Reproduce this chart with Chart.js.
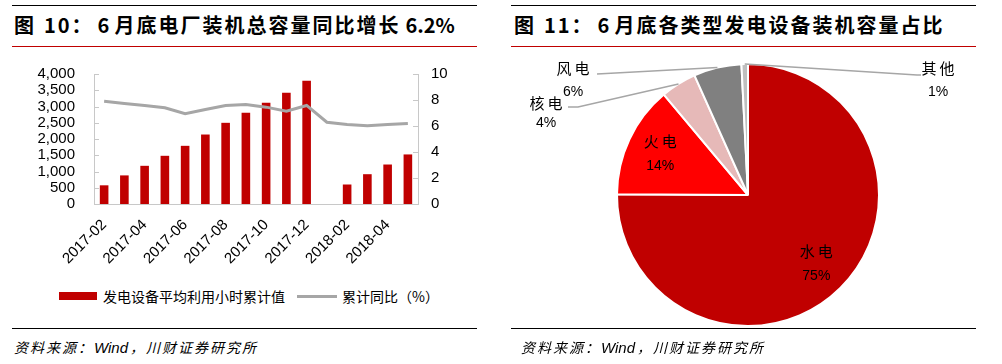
<!DOCTYPE html>
<html><head><meta charset="utf-8">
<script src="https://cdn.jsdelivr.net/npm/chart.js@4.4.1/dist/chart.umd.min.js"></script>
<style>
html,body{margin:0;padding:0;background:#fff;width:1002px;height:364px;overflow:hidden;position:relative;font-family:"Noto Sans CJK SC",sans-serif;}
.rule{position:absolute;height:1px;background:#000;}
.redrule{position:absolute;height:1px;background:#C00000;}
.title{position:absolute;font-weight:700;font-size:20px;letter-spacing:2px;line-height:24px;color:#000;white-space:nowrap;}
.src{position:absolute;font-size:14px;font-style:italic;line-height:18px;white-space:nowrap;letter-spacing:2px;color:#000;}
.src .en{font-family:"Liberation Sans",Arial,sans-serif;letter-spacing:0;font-size:15px;margin-right:2px;}
.leg{position:absolute;font-size:14px;line-height:18px;white-space:nowrap;color:#000;}
canvas{position:absolute;}
</style></head>
<body>
<div class="rule" style="left:12px;top:5px;width:465px;"></div>
<div class="title" style="left:14px;top:13px;">图<span style="margin-left:8px">10：</span><span style="margin-left:4px">6</span><span style="margin-left:3px">月底电厂装机总容量同比增长</span><span style="margin-left:5px;letter-spacing:0">6.2%</span></div>
<div class="redrule" style="left:12px;top:46px;width:465px;"></div>
<canvas id="c1" width="490" height="234" style="left:0;top:46px;width:490px;height:234px;"></canvas>
<div style="position:absolute;left:59px;top:292px;width:38px;height:8px;background:#C00000;"></div>
<div class="leg" style="left:103px;top:287px;">发电设备平均利用小时累计值</div>
<div style="position:absolute;left:297px;top:295px;width:40px;height:3px;background:#A6A6A6;"></div>
<div class="leg" style="left:342px;top:287px;">累计同比（%）</div>
<div class="rule" style="left:12px;top:328px;width:465px;"></div>
<div class="src" style="left:14px;top:338px;">资料来源：<span class="en">Wind</span>，川财证券研究所</div>

<div class="rule" style="left:511px;top:5px;width:465px;"></div>
<div class="title" style="left:514px;top:13px;">图<span style="margin-left:8px">11：</span><span style="margin-left:4px">6</span><span style="margin-left:3px">月底各类型发电设备装机容量占比</span></div>
<div class="redrule" style="left:511px;top:46px;width:465px;"></div>
<canvas id="c2" width="466" height="280" style="left:511px;top:50px;width:466px;height:280px;"></canvas>
<div class="rule" style="left:511px;top:328px;width:465px;"></div>
<div class="src" style="left:521px;top:338px;">资料来源：<span class="en">Wind</span>，川财证券研究所</div>

<script>
// ---- data ----
const categories = ['2017-02','2017-03','2017-04','2017-05','2017-06','2017-07','2017-08','2017-09','2017-10','2017-11','2017-12','2018-01','2018-02','2018-03','2018-04','2018-05'];
const avgHours = [575, 880, 1175, 1483, 1790, 2138, 2498, 2806, 3114, 3421, 3790, null, 600, 917, 1215, 1525];
const yoyPct = [7.9, 7.73, 7.58, 7.4, 6.94, 7.27, 7.58, 7.65, 7.45, 7.14, 7.58, 6.29, 6.12, 6.01, 6.12, 6.2];
const xTickLabels = ['2017-02','2017-04','2017-06','2017-08','2017-10','2017-12','2018-02','2018-04'];
const leftTicks = [0, 500, 1000, 1500, 2000, 2500, 3000, 3500, 4000];
const rightTicks = [0, 2, 4, 6, 8, 10];
const seriesNames = ['发电设备平均利用小时累计值', '累计同比（%）'];

const pieLabels = ['水电', '火电', '核电', '风电', '其他'];
const pieValues = [75.1, 13.8, 4.4, 5.9, 0.8];
const pieColors = ['#C00000', '#FF0000', '#E6B9B8', '#808080', '#BFBFBF'];

// ---- left chart ----
const axisColor = '#C8C8C8';
const tickFont = {family: '"Liberation Sans", Arial, sans-serif', size: 15};

const innerTicks = {
  id: 'innerTicks',
  afterDatasetsDraw(chart) {
    const ctx = chart.ctx;
    ctx.save();
    ctx.strokeStyle = axisColor;
    ctx.lineWidth = 1;
    const yl = chart.scales.y, yr = chart.scales.y1;
    yl.ticks.forEach(t => {
      const p = Math.round(yl.getPixelForValue(t.value)) + 0.5;
      ctx.beginPath(); ctx.moveTo(yl.right, p); ctx.lineTo(yl.right + 5, p); ctx.stroke();
    });
    yr.ticks.forEach(t => {
      const p = Math.round(yr.getPixelForValue(t.value)) + 0.5;
      ctx.beginPath(); ctx.moveTo(yr.left, p); ctx.lineTo(yr.left - 5, p); ctx.stroke();
    });
    ctx.restore();
  }
};

new Chart(document.getElementById('c1'), {
  data: {
    labels: categories,
    datasets: [
      {type: 'line', label: seriesNames[1], data: yoyPct, yAxisID: 'y1', borderColor: '#A6A6A6', borderWidth: 3, pointRadius: 0, tension: 0, order: 0, spanGaps: true},
      {type: 'bar', label: seriesNames[0], data: avgHours, yAxisID: 'y', backgroundColor: '#C00000', barPercentage: 0.85, categoryPercentage: 0.5, order: 1}
    ]
  },
  options: {
    responsive: false, animation: false, devicePixelRatio: 1,
    layout: {padding: 0},
    plugins: {legend: {display: false}, tooltip: {enabled: false}},
    scales: {
      x: {
        offset: true,
        grid: {display: false, drawTicks: false},
        border: {display: true, color: axisColor, width: 1},
        ticks: {autoSkip: false, maxRotation: 45, minRotation: 45, color: '#000', font: tickFont, padding: 12,
          callback: function(v, i) { const l = categories[i]; return xTickLabels.includes(l) ? l : ''; }},
        afterFit(s) { s.height = 76; }
      },
      y: {
        position: 'left', min: 0, max: 4000,
        grid: {display: false, drawTicks: false},
        border: {display: true, color: axisColor, width: 1},
        ticks: {stepSize: 500, autoSkip: false, color: '#000', font: tickFont, padding: 19,
          callback: v => leftTicks.includes(v) ? v.toLocaleString('en-US') : ''},
        afterFit(s) { s.width = 94; }
      },
      y1: {
        position: 'right', min: 0, max: 10,
        grid: {display: false, drawTicks: false},
        border: {display: true, color: axisColor, width: 1},
        ticks: {stepSize: 2, autoSkip: false, color: '#000', font: tickFont, padding: 13,
          callback: v => rightTicks.includes(v) ? String(v) : ''},
        afterFit(s) { s.width = 72; }
      }
    }
  },
  plugins: [innerTicks]
});

// ---- pie chart ----
const pieLabelPlugin = {
  id: 'pieLabels',
  afterDatasetsDraw(chart, args, opts) {
    const ctx = chart.ctx;
    const meta = chart.getDatasetMeta(0);
    const total = pieValues.reduce((a, b) => a + b, 0);
    ctx.save();
    meta.data.forEach((arc, i) => {
      const p = arc.getProps(['x', 'y', 'startAngle', 'endAngle', 'outerRadius'], true);
      const mid = (p.startAngle + p.endAngle) / 2;
      const pl = opts.placements[i];
      let lx, ly;
      if (pl.inside) {
        lx = p.x + Math.cos(mid) * p.outerRadius * pl.r;
        ly = p.y + Math.sin(mid) * p.outerRadius * pl.r;
      } else {
        lx = p.x + pl.dx; ly = p.y + pl.dy;
        ctx.strokeStyle = '#A6A6A6'; ctx.lineWidth = 1.5;
        ctx.beginPath();
        ctx.moveTo(p.x + Math.cos(mid) * p.outerRadius, p.y + Math.sin(mid) * p.outerRadius);
        pl.path.forEach(pt => ctx.lineTo(p.x + pt[0], p.y + pt[1]));
        ctx.stroke();
      }
      ctx.fillStyle = '#000';
      ctx.textAlign = 'center';
      ctx.textBaseline = 'middle';
      ctx.font = '15px "Noto Sans CJK SC"';
      ctx.letterSpacing = '3px';
      ctx.fillText(pieLabels[i], lx + 1.5, ly - pl.gap);
      ctx.letterSpacing = '0px';
      ctx.font = '14px "Liberation Sans", Arial';
      ctx.fillText(Math.round(pieValues[i] / total * 100) + '%', lx, ly + pl.gap);
    });
    ctx.restore();
  }
};

new Chart(document.getElementById('c2'), {
  type: 'pie',
  data: {
    labels: pieLabels,
    datasets: [{data: pieValues, backgroundColor: pieColors, borderColor: '#FFFFFF', borderWidth: 2}]
  },
  options: {
    responsive: false, animation: false, devicePixelRatio: 1,
    radius: 131,
    layout: {padding: {left: 106, right: 98, top: 14, bottom: 4}},
    plugins: {
      legend: {display: false}, tooltip: {enabled: false},
      pieLabels: {
        placements: [
          {inside: true, r: 0.74, gap: 12},
          {inside: true, r: 0.74, gap: 12},
          {inside: false, dx: -202, dy: -82, gap: 10, path: [[-170, -88], [-180, -88]]},
          {inside: false, dx: -175, dy: -115, gap: 12, path: [[-151, -121]]},
          {inside: false, dx: 190, dy: -115, gap: 12, path: [[169, -120], [173, -120]]}
        ]
      }
    }
  },
  plugins: [pieLabelPlugin]
});
</script>
</body></html>
